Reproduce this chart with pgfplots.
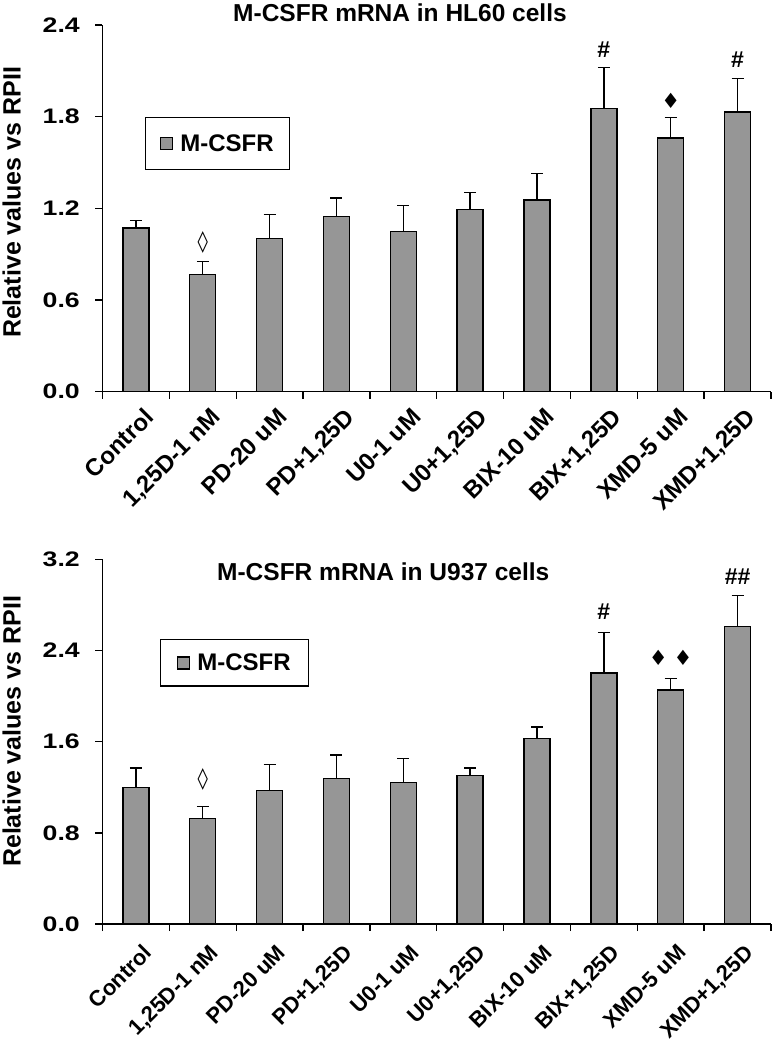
\documentclass[border=0pt]{standalone}
\usepackage{fontspec}
\setmainfont{Liberation Sans}
\newfontfamily\symfont{DejaVu Sans}
\usepackage{graphicx}
\usepackage{pgfplots}
\pgfplotsset{compat=1.18}
\definecolor{barfill}{RGB}{150,150,150}

\newcommand{\fs}[1]{\fontsize{#1pt}{#1pt}\selectfont}

\pgfplotsset{
  mystyle/.style={
    scale only axis, width=668.5pt,
    xmin=-0.5, xmax=9.5, ymin=0,
    ybar, bar width=26pt,
    axis x line*=bottom, axis y line*=left,
    axis line style={line width=1.6pt, black},
    tick align=outside, major tick length=7pt,
    tick style={line width=1.4pt, black},
    xtick={-0.5,0.5,1.5,2.5,3.5,4.5,5.5,6.5,7.5,8.5,9.5},
    xticklabels={},
    extra x ticks={0,1,2,3,4,5,6,7,8,9},
    extra x tick labels={Control,{1,25D-1 nM},{PD-20 uM},{PD+1,25D},{U0-1 uM},{U0+1,25D},{BIX-10 uM},{BIX+1,25D},{XMD-5 uM},{XMD+1,25D}},
    yticklabel={\scalebox{1.27}[1]{\pgfmathprintnumber[fixed,fixed zerofill,precision=1,assume math mode=true]{\tick}}},
    yticklabel style={font=\bfseries\fs{21}, anchor=east, inner sep=0pt, xshift=-15.5pt},
    ylabel={Relative values vs RPII},
    ylabel style={font=\bfseries\fs{25}, anchor=center},
    legend image code/.code={\draw[fill=barfill, draw=black, line width=1.4pt] (0pt,-6pt) rectangle (12pt,6pt); \path[draw=none, fill=none] (12pt,0pt) -- (18pt,0pt);},
    clip=false,
  },
  barplot/.style={fill=barfill, draw=black, line width=1.4pt,
    error bars/.cd, y dir=plus, y explicit,
    error bar style={line width=1.4pt, black},
    error mark options={rotate=90, mark size=6pt, line width=1.4pt, black}},
}

\begin{document}
\begin{tikzpicture}
\path[use as bounding box] (0,0) rectangle (772pt,1050pt);

% ---------- Top panel: HL60 ----------
\begin{axis}[mystyle,
  at={(102.5pt,658.3pt)}, anchor=south west,
  height=366.7pt, ymax=2.4,
  ytick={0,0.6,1.2,1.8,2.4},
  xticklabel style={font=\bfseries\fs{24}, inner sep=0pt, xshift=7pt, yshift=-15pt, rotate=45, anchor=north east},
  extra x tick style={major tick length=0pt},
  ylabel style={at={(axis description cs:-0.136,0.516)}},
  legend style={at={(axis description cs:0.0636,0.749)}, anchor=north west,
    draw=black, line width=1.2pt, inner xsep=14pt, inner ysep=15pt,
    font=\bfseries\fs{24}, legend cell align=left},
]
\addplot[barplot] table[x=x, y=y, y error=e] {
x y e
0 1.071 0.051
1 0.768 0.085
2 1.001 0.157
3 1.145 0.123
4 1.050 0.170
5 1.194 0.111
6 1.255 0.172
7 1.855 0.268
8 1.660 0.136
9 1.830 0.221
};
\addlegendentry{M-CSFR}
\node[font=\bfseries\fs{24.5}, anchor=north, inner sep=0pt] at (rel axis cs:0.445,1.058) {M-CSFR mRNA in HL60 cells};
\node[font=\symfont\fs{21}] at (axis cs:1,0.975) {◊};
\node[font=\bfseries\fs{23}] at (axis cs:7,2.236) {\#};
\node[font=\symfont\fs{21}] at (axis cs:8,1.902) {♦};
\node[font=\bfseries\fs{23}] at (axis cs:9,2.171) {\#};
\end{axis}

% ---------- Bottom panel: U937 ----------
\begin{axis}[mystyle,
  at={(102.5pt,126pt)}, anchor=south west,
  height=364.7pt, ymax=3.2,
  ytick={0,0.8,1.6,2.4,3.2},
  xticklabel style={font=\bfseries\fs{22}, inner sep=0pt, xshift=6pt, yshift=-19pt, rotate=45, anchor=north east},
  extra x tick style={major tick length=0pt},
  ylabel style={at={(axis description cs:-0.136,0.528)}},
  legend style={at={(axis description cs:0.086,0.781)}, anchor=north west,
    draw=black, line width=1.2pt, inner xsep=16pt, inner ysep=12pt,
    font=\bfseries\fs{24}, legend cell align=left},
]
\addplot[barplot] table[x=x, y=y, y error=e] {
x y e
0 1.196 0.173
1 0.927 0.102
2 1.173 0.228
3 1.275 0.208
4 1.240 0.210
5 1.305 0.064
6 1.629 0.100
7 2.202 0.357
8 2.053 0.099
9 2.612 0.272
};
\addlegendentry{M-CSFR}
\node[font=\bfseries\fs{24.5}, anchor=north, inner sep=0pt] at (rel axis cs:0.42,0.990) {M-CSFR mRNA in U937 cells};
\node[font=\symfont\fs{21}] at (axis cs:1,1.270) {◊};
\node[font=\bfseries\fs{23}] at (axis cs:7,2.740) {\#};
\node[font=\symfont\fs{21}] at (axis cs:8,2.337) {♦\hspace{6pt}♦};
\node[font=\bfseries\fs{23}] at (axis cs:9,3.047) {\#\#};
\end{axis}
\end{tikzpicture}
\end{document}
